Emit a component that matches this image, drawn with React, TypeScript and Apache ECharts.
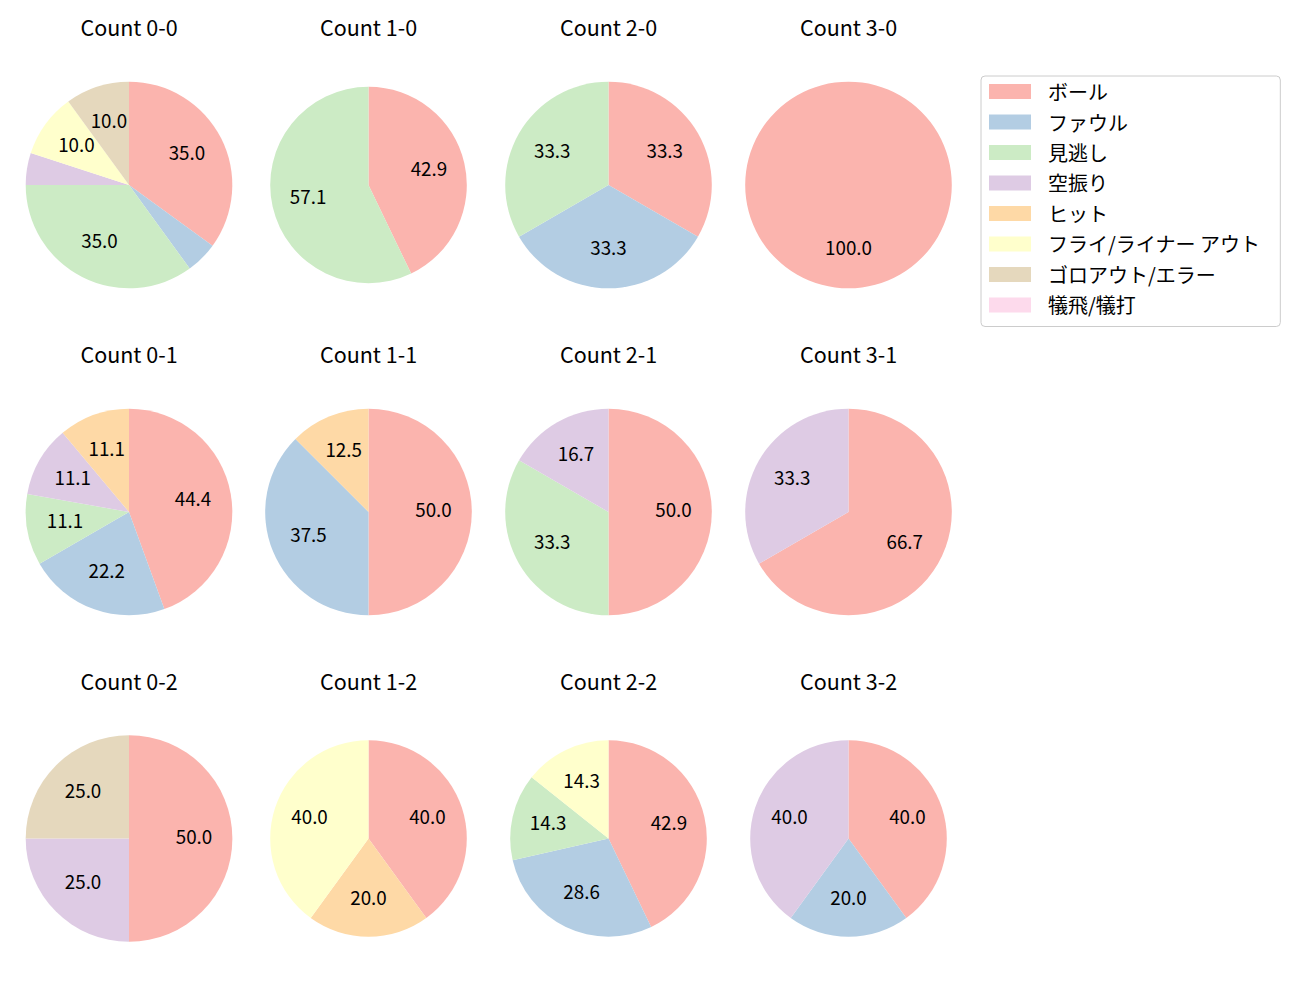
import React, { useEffect, useRef } from "react";
import * as echarts from "echarts";

const CATEGORIES = [
  "ボール",
  "ファウル",
  "見逃し",
  "空振り",
  "ヒット",
  "フライ/ライナー アウト",
  "ゴロアウト/エラー",
  "犠飛/犠打",
];
const COLORS = ["#fbb4ae", "#b3cde3", "#ccebc5", "#decbe4", "#fed9a6", "#ffffcc", "#e5d8bd", "#fddaec"];

// counts per category, in CATEGORIES order
const COUNT_0_0 = [7, 1, 7, 1, 0, 2, 2, 0];
const COUNT_1_0 = [3, 0, 4, 0, 0, 0, 0, 0];
const COUNT_2_0 = [1, 1, 1, 0, 0, 0, 0, 0];
const COUNT_3_0 = [1, 0, 0, 0, 0, 0, 0, 0];
const COUNT_0_1 = [4, 2, 1, 1, 1, 0, 0, 0];
const COUNT_1_1 = [4, 3, 0, 0, 1, 0, 0, 0];
const COUNT_2_1 = [3, 0, 2, 1, 0, 0, 0, 0];
const COUNT_3_1 = [2, 0, 0, 1, 0, 0, 0, 0];
const COUNT_0_2 = [2, 0, 0, 1, 0, 0, 1, 0];
const COUNT_1_2 = [2, 0, 0, 0, 1, 2, 0, 0];
const COUNT_2_2 = [3, 2, 1, 0, 0, 1, 0, 0];
const COUNT_3_2 = [2, 1, 0, 2, 0, 0, 0, 0];

const TITLES = [
  "Count 0-0", "Count 1-0", "Count 2-0", "Count 3-0",
  "Count 0-1", "Count 1-1", "Count 2-1", "Count 3-1",
  "Count 0-2", "Count 1-2", "Count 2-2", "Count 3-2",
];
const PIES = [
  COUNT_0_0, COUNT_1_0, COUNT_2_0, COUNT_3_0,
  COUNT_0_1, COUNT_1_1, COUNT_2_1, COUNT_3_1,
  COUNT_0_2, COUNT_1_2, COUNT_2_2, COUNT_3_2,
];

// layout
const COL_X = [129, 368.5, 608.5, 848.5];
const ROW_Y = [185, 512, 838.5];
const TITLE_Y = [28, 355, 682];
const RADII = [
  103.3, 98.3, 103.3, 103.3,
  103.3, 103.3, 103.3, 103.3,
  103.3, 98.3, 98.3, 98.3,
];
const LABEL_SHIFT_Y = -3.5;

const FONT = "'Noto Sans CJK JP', 'Noto Sans', sans-serif";
const TITLE_SIZE = 21.5;
const LABEL_SIZE = 18.8;
const LEGEND_SIZE = 20;

export default function App() {
  const ref = useRef<HTMLDivElement>(null);
  useEffect(() => {
    if (!ref.current) return;
    const chart = echarts.init(ref.current, null, { renderer: "svg" });

    const titles: any[] = [];
    const pieSeries: any[] = [];
    const labelSeries: any[] = [];
    PIES.forEach((vals, i) => {
      const col = i % 4;
      const row = Math.floor(i / 4);
      const cx = COL_X[col];
      const cy = ROW_Y[row];
      const r = RADII[i];
      const total = vals.reduce((a, b) => a + b, 0);
      titles.push({
        text: TITLES[i],
        left: cx,
        top: TITLE_Y[row] - TITLE_SIZE / 2 - 2,
        textAlign: "center",
        padding: 0,
        textStyle: { fontSize: TITLE_SIZE, fontWeight: "normal", color: "#000", fontFamily: FONT },
      });
      pieSeries.push({
        type: "pie",
        center: [cx, cy],
        radius: [0, r],
        startAngle: 90,
        clockwise: true,
        silent: true,
        label: { show: false },
        labelLine: { show: false },
        itemStyle: { borderWidth: 0 },
        emphasis: { disabled: true },
        data: vals.map((v, k) => ({
          name: CATEGORIES[k],
          value: v,
          itemStyle: { color: COLORS[k] },
        })),
      });
      labelSeries.push({
        type: "pie",
        center: [cx, cy + LABEL_SHIFT_Y],
        radius: [0, r * 1.2],
        startAngle: 90,
        clockwise: true,
        silent: true,
        legendHoverLink: false,
        itemStyle: { borderWidth: 0, color: "rgba(0,0,0,0)" },
        emphasis: { disabled: true },
        labelLine: { show: false },
        label: {
          show: true,
          position: "inside",
          fontSize: LABEL_SIZE,
          color: "#000",
          fontFamily: FONT,
          formatter: (p: any) => {
            const pct = (p.value / total) * 100;
            return pct >= 10 ? pct.toFixed(1) : "";
          },
        },
        data: vals.map((v, k) => ({ name: CATEGORIES[k], value: v })),
      });
    });

    chart.setOption({
      animation: false,
      backgroundColor: "#fff",
      title: titles,
      legend: {
        orient: "vertical",
        left: 981,
        top: 76,
        data: CATEGORIES,
        icon: "rect",
        itemWidth: 42,
        itemHeight: 15,
        itemGap: 10.5,
        padding: [5.5, 20, 11.5, 8],
        borderColor: "#cccccc",
        borderWidth: 1,
        borderRadius: 4,
        selectedMode: false,
        textStyle: {
          fontSize: LEGEND_SIZE,
          color: "#000",
          fontFamily: FONT,
          padding: [0, 0, 0, 12],
        },
      },
      series: [...pieSeries, ...labelSeries],
    });
    return () => chart.dispose();
  }, []);
  return (
    <div
      ref={ref}
      style={{ position: "fixed", left: 0, top: 0, width: 1300, height: 1000, background: "#fff" }}
    />
  );
}
